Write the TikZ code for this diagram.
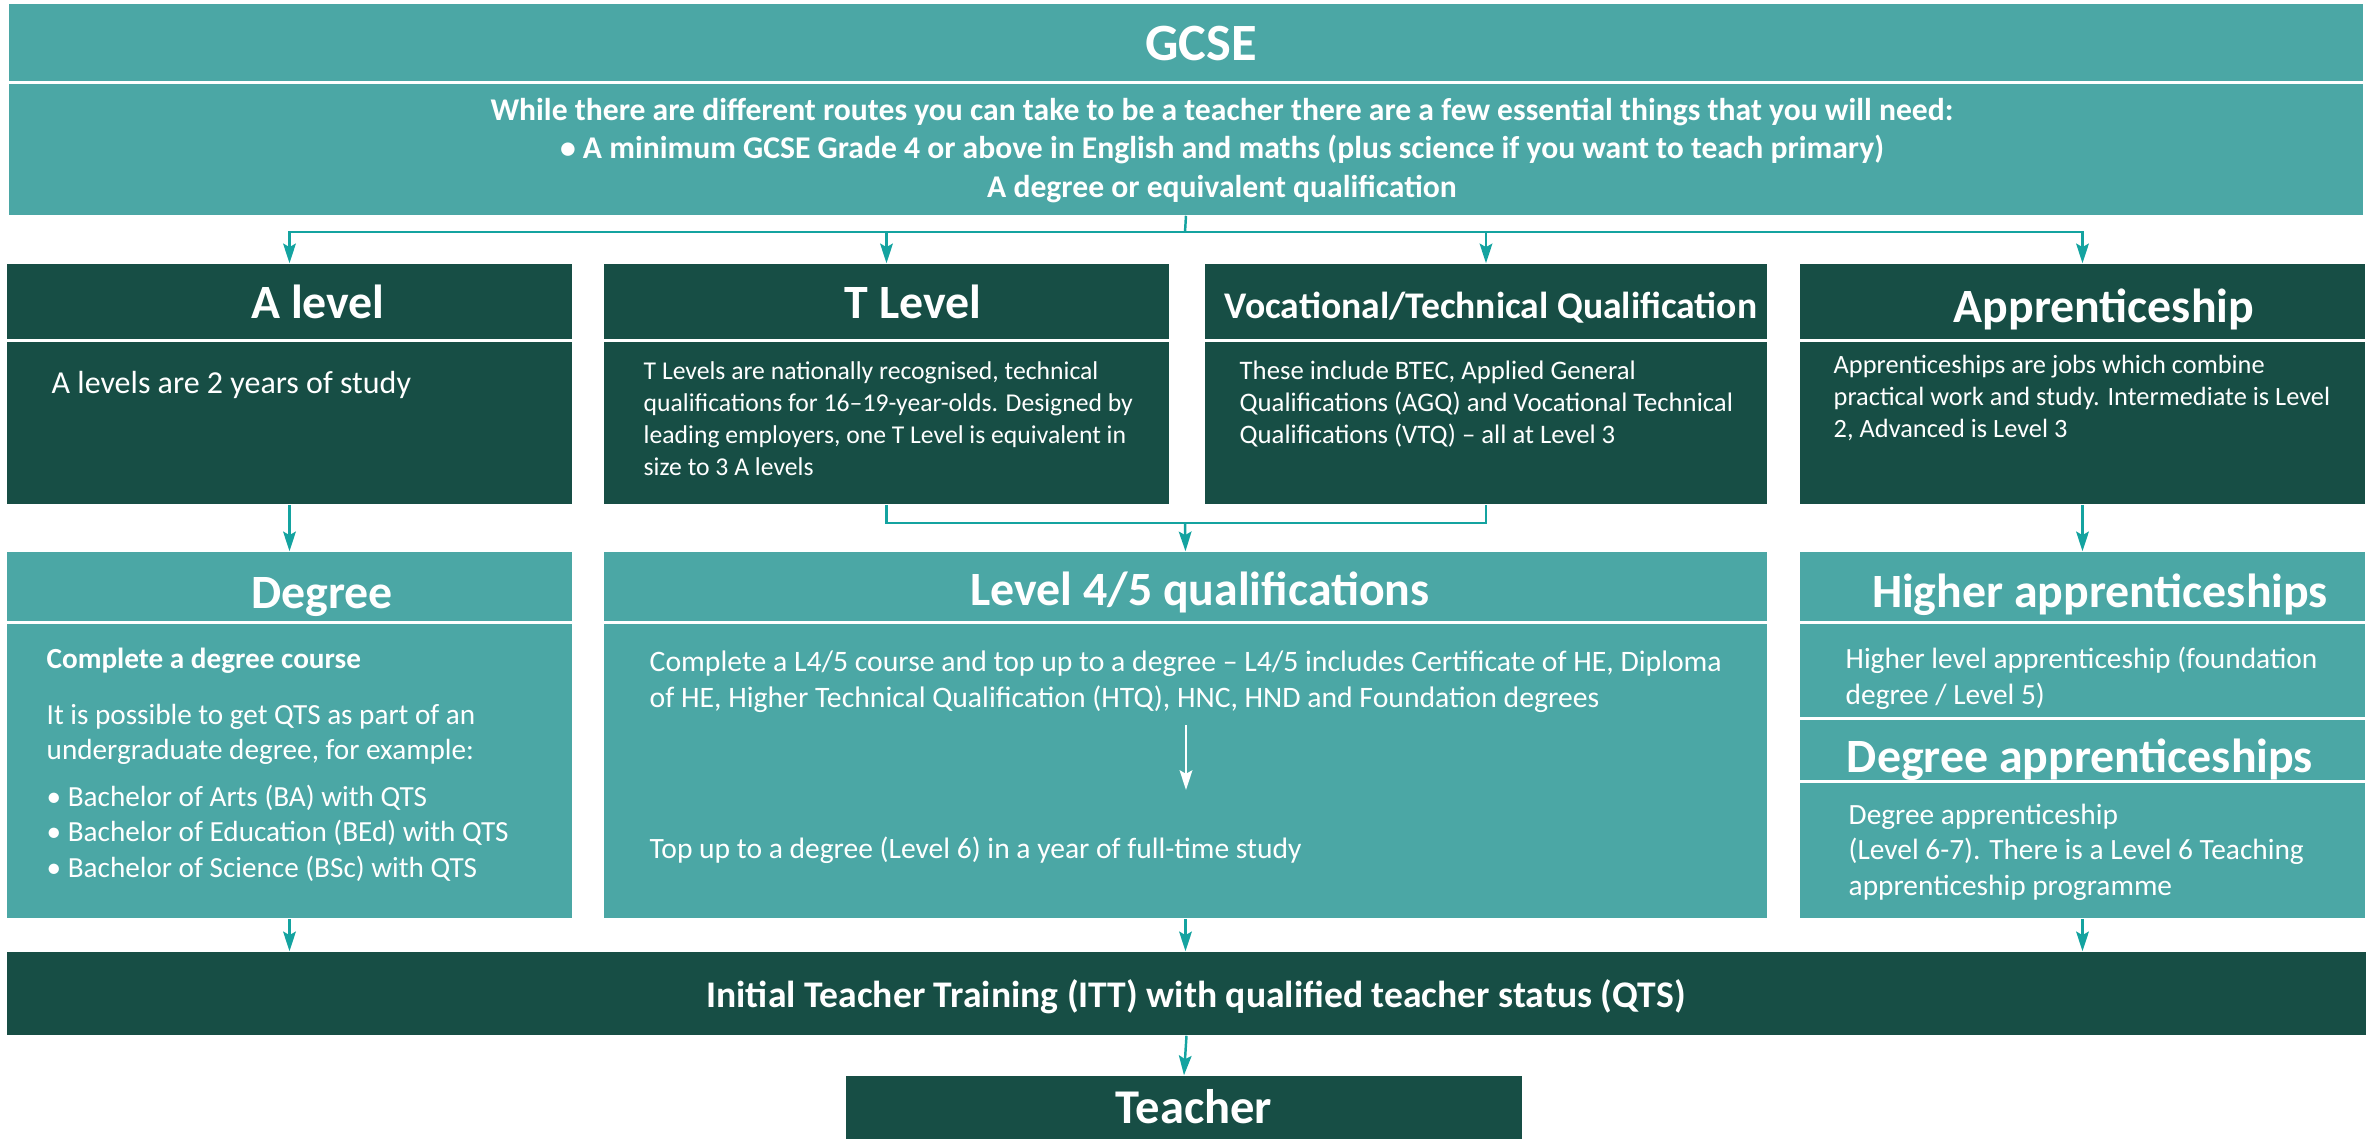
\documentclass[tikz,border=0pt]{standalone}
\usepackage{fontspec}
\setmainfont{Carlito}
\usetikzlibrary{arrows.meta}

\definecolor{tealbox}{HTML}{4BA7A5}
\definecolor{greenbox}{HTML}{174E45}
\definecolor{tealline}{HTML}{14A3A0}

\tikzset{
  box/.style={rectangle, inner sep=0pt, draw=none, minimum width=#1},
  lightbox/.style={box=#1, fill=tealbox},
  darkbox/.style={box=#1, fill=greenbox},
  bus/.style={tealline, line width=0.7pt},
  conn/.style={bus, -{Stealth[length=5.6pt, width=3.6pt, inset=1pt]}},
  head/.style={white, inner sep=0pt, anchor=base, font=\bfseries\fontsize{13.6}{16}\selectfont},
  bodytext/.style={white, inner sep=0pt, anchor=base west, align=left, font=\fontsize{7.5}{9.1}\selectfont},
}

\begin{document}
\begin{tikzpicture}[x=0.01cm, y=-0.01cm]
  \useasboundingbox (0,0) rectangle (2374,1138);
  \clip (0,0) rectangle (2374,1138);
  % GCSE (multi-line texts sit on their last baseline)
  \node[lightbox=23.52cm, minimum height=0.77cm] (gcseT) at (1186,42.5) {};
  \node[lightbox=23.52cm, minimum height=1.31cm] (gcseB) at (1186,149.5) {};
  \node[head, font=\bfseries\fontsize{14.9}{18}\selectfont] (gcseL) at (1201,60) {GCSE};
  \node[head, align=center, font=\bfseries\fontsize{9.0}{10.95}\selectfont] (gcseD) at (1222,197)
    {While there are different routes you can take to be a teacher there are a few essential things that you will need:\\
     • A minimum GCSE Grade 4 or above in English and maths (plus science if you want to teach primary)\\
     A degree or equivalent qualification};
  % first row
  \node[darkbox=5.65cm, minimum height=0.75cm] (alevT) at (289.5,301.5) {};
  \node[darkbox=5.65cm, minimum height=1.62cm] (alevB) at (289.5,423) {};
  \node[darkbox=5.65cm, minimum height=0.75cm] (tlevT) at (886.5,301.5) {};
  \node[darkbox=5.65cm, minimum height=1.62cm] (tlevB) at (886.5,423) {};
  \node[darkbox=5.62cm, minimum height=0.75cm] (vocT) at (1486,301.5) {};
  \node[darkbox=5.62cm, minimum height=1.62cm] (vocB) at (1486,423) {};
  \node[darkbox=5.65cm, minimum height=0.75cm] (appT) at (2082.5,301.5) {};
  \node[darkbox=5.65cm, minimum height=1.62cm] (appB) at (2082.5,423) {};
  \node[head] (alevL) at (318,318) {A level};
  \node[head] (tlevL) at (913,318) {T Level};
  \node[head, font=\bfseries\fontsize{10.7}{12}\selectfont] (vocL) at (1491,318) {Vocational/Technical Qualification};
  \node[head] (appL) at (2104,322) {Apprenticeship};
  \node[bodytext, font=\fontsize{9.1}{10.5}\selectfont] (alevD) at (51,393) {A levels are 2 years of study};
  \node[bodytext, font=\fontsize{7.3}{9.1}\selectfont] (tlevD) at (643,475)
    {T Levels are nationally recognised, technical\\qualifications for 16–19-year-olds. Designed by\\leading employers, one T Level is equivalent in\\size to 3 A levels};
  \node[bodytext, font=\fontsize{7.6}{9.1}\selectfont] (vocD) at (1239,443)
    {These include BTEC, Applied General\\Qualifications (AGQ) and Vocational Technical\\Qualifications (VTQ) – all at Level 3};
  \node[bodytext] (appD) at (1833,437)
    {Apprenticeships are jobs which combine\\practical work and study. Intermediate is Level\\2, Advanced is Level 3};
  % second row
  \node[lightbox=5.65cm, minimum height=0.69cm] (degT) at (289.5,586.5) {};
  \node[lightbox=5.65cm, minimum height=2.94cm] (degB) at (289.5,771) {};
  \node[lightbox=11.63cm, minimum height=0.69cm] (lfT) at (1185.5,586.5) {};
  \node[lightbox=11.63cm, minimum height=2.94cm] (lfB) at (1185.5,771) {};
  \node[lightbox=5.65cm, minimum height=0.69cm] (hiT) at (2082.5,586.5) {};
  \node[lightbox=5.65cm, minimum height=0.93cm] (hiB) at (2082.5,670.5) {};
  \node[lightbox=5.65cm, minimum height=0.60cm] (daT) at (2082.5,750) {};
  \node[lightbox=5.65cm, minimum height=1.35cm] (daB) at (2082.5,850.5) {};
  \node[head] (degL) at (322,608) {Degree};
  \node[head] (lfL) at (1200,605) {Level 4/5 qualifications};
  \node[head] (hiL) at (2100,607) {Higher apprenticeships};
  \node[head] (daL) at (2080,772) {Degree apprenticeships};
  \node[bodytext, font=\bfseries\fontsize{8.3}{10}\selectfont] (degH) at (46,668) {Complete a degree course};
  \node[bodytext, font=\fontsize{8.3}{10}\selectfont] (degD) at (46,877)
    {It is possible to get QTS as part of an\\undergraduate degree, for example:\\[3.4pt]
     • Bachelor of Arts (BA) with QTS\\• Bachelor of Education (BEd) with QTS\\• Bachelor of Science (BSc) with QTS};
  \node[bodytext, font=\fontsize{8.45}{10}\selectfont] (lfD) at (649,707)
    {Complete a L4/5 course and top up to a degree – L4/5 includes Certificate of HE, Diploma\\of HE, Higher Technical Qualification (HTQ), HNC, HND and Foundation degrees};
  \node[bodytext, font=\fontsize{8.4}{10}\selectfont] (lfE) at (649,858)
    {Top up to a degree (Level 6) in a year of full-time study};
  \node[bodytext, font=\fontsize{8.35}{10.2}\selectfont] (hiD) at (1845,704)
    {Higher level apprenticeship (foundation\\degree / Level 5)};
  \node[bodytext, font=\fontsize{8.35}{10}\selectfont] (daD) at (1848,895)
    {Degree apprenticeship\\(Level 6-7). There is a Level 6 Teaching\\apprenticeship programme};
  % ITT and teacher
  \node[darkbox=23.57cm, minimum height=0.83cm] (itt) at (1186.5,993.5) {};
  \node[head, font=\bfseries\fontsize{10.7}{12}\selectfont] (ittL) at (1196,1007)
    {Initial Teacher Training (ITT) with qualified teacher status (QTS)};
  \node[darkbox=6.76cm, minimum height=0.70cm] (tea) at (1184,1111) {};
  \node[head, font=\bfseries\fontsize{13.8}{16}\selectfont] (teaL) at (1194,1123) {Teacher};
  % connectors
  \coordinate (split) at (1185,232);
  \coordinate (join) at (1185,523);
  \draw[bus] (gcseB.south) -- (split);
  \foreach \n in {alevT, tlevT, vocT, appT}
    \draw[conn] (split) -| (\n.north);
  \draw[conn] (alevB.south) -- (degT.north);
  \draw[bus] (tlevB.south) |- (join) -| (vocB.south);
  \draw[conn] (join) -- (lfT.north);
  \draw[conn] (appB.south) -- (hiT.north);
  \foreach \n in {degB, lfB, hiB}
    \draw[conn] (\n.south |- daB.south) -- (\n.south |- itt.north);
  \draw[conn] (itt.south) -- (tea.north);
  % step inside level 4/5
  \coordinate (lfa) at (1186,725);
  \coordinate (lfb) at (1186,790);
  \draw[conn, white] (lfa) -- (lfb);
\end{tikzpicture}
\end{document}
